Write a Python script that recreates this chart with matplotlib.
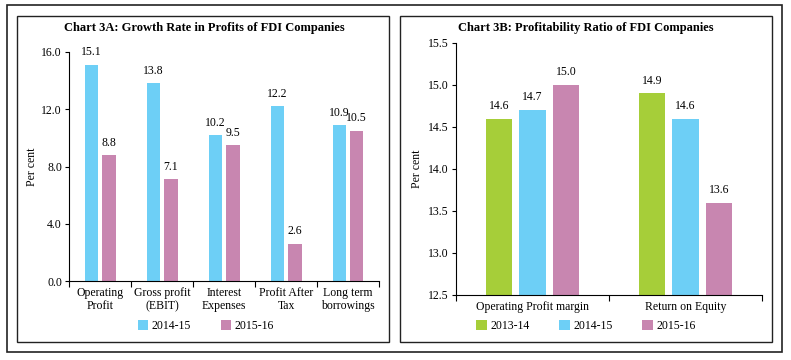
import matplotlib
matplotlib.use("Agg")
import matplotlib.pyplot as plt
import numpy as np
from matplotlib.patches import Rectangle

# Data
cats_a = ["Operating\nProfit", "Gross profit\n(EBIT)", "Interest\nExpenses", "Profit After\nTax", "Long term\nborrowings"]
a_2014 = [15.1, 13.8, 10.2, 12.2, 10.9]
a_2015 = [8.8, 7.1, 9.5, 2.6, 10.5]
series_a = ["2014-15", "2015-16"]

cats_b = ["Operating Profit margin", "Return on Equity"]
b_2013 = [14.6, 14.9]
b_2014 = [14.7, 14.6]
b_2015 = [15.0, 13.6]
series_b = ["2013-14", "2014-15", "2015-16"]

green = "#A6CE39"
blue = "#6DCFF6"
pink = "#C886B0"

plt.rcParams['font.family'] = ['Liberation Serif', 'DejaVu Serif']
W, H = 791, 360
fig = plt.figure(figsize=(W/100, H/100), dpi=100)

def fx(x): return x / W
def fy(y): return 1 - y / H

# borders
fig.patches.append(Rectangle((fx(7), fy(352)), fx(782) - fx(7), fy(5) - fy(352),
                             transform=fig.transFigure, fill=False, lw=1.2, ec="#222222"))
fig.patches.append(Rectangle((fx(17), fy(342)), fx(389) - fx(17), fy(16) - fy(342),
                             transform=fig.transFigure, fill=False, lw=1.0, ec="#222222"))
fig.patches.append(Rectangle((fx(400), fy(342)), fx(772) - fx(400), fy(16) - fy(342),
                             transform=fig.transFigure, fill=False, lw=1.0, ec="#222222"))

fs = 8.5

def style(ax):
    ax.spines['top'].set_visible(False)
    ax.spines['right'].set_visible(False)
    ax.spines['left'].set_linewidth(0.8)
    ax.spines['bottom'].set_linewidth(0.8)
    ax.tick_params(axis='y', direction='out', length=3, width=0.8, labelsize=fs, pad=2)
    ax.tick_params(axis='x', which='major', length=0, labelsize=fs, pad=4)
    ax.tick_params(axis='x', which='minor', direction='out', length=4, width=0.8)

# Chart A
axA = fig.add_axes([fx(69), fy(281), fx(379) - fx(69), fy(52) - fy(281)])
xa = np.arange(len(cats_a))
w = 0.22
b1 = axA.bar(xa - 0.14, a_2014, w, color=blue, label=series_a[0])
b2 = axA.bar(xa + 0.14, a_2015, w, color=pink, label=series_a[1])
for bars in (b1, b2):
    for r in bars:
        axA.text(r.get_x() + r.get_width()/2, r.get_height() + 0.45, f"{r.get_height():.1f}",
                 ha='center', va='bottom', fontsize=fs)
axA.set_xlim(-0.5, len(cats_a) - 0.5)
axA.set_ylim(0, 16)
axA.set_yticks([0, 4, 8, 12, 16])
axA.set_yticklabels([f"{v:.1f}" for v in [0, 4, 8, 12, 16]])
axA.set_xticks(xa)
axA.set_xticklabels(cats_a, linespacing=1.15)
axA.set_xticks(np.arange(-0.5, len(cats_a)), minor=True)
style(axA)
axA.set_ylabel("Per cent", fontsize=fs)
axA.yaxis.set_label_coords(fx(38 - 69) / (fx(379) - fx(69)), 0.5)
fig.text(fx(204), fy(28), "Chart 3A: Growth Rate in Profits of FDI Companies", ha='center', va='center',
         fontsize=9, fontweight='bold')
fig.legend(handles=[b1, b2], labels=series_a, loc='center', bbox_to_anchor=(fx(206), fy(326)),
           ncol=2, frameon=False, fontsize=fs, handlelength=0.9, handleheight=0.9,
           handletextpad=0.3, columnspacing=2.5, borderpad=0)

# Chart B
axB = fig.add_axes([fx(456), fy(295), fx(762) - fx(456), fy(43) - fy(295)])
xb = np.arange(len(cats_b))
wb = 0.17
c1 = axB.bar(xb - 0.22, b_2013, wb, color=green, label=series_b[0])
c2 = axB.bar(xb, b_2014, wb, color=blue, label=series_b[1])
c3 = axB.bar(xb + 0.22, b_2015, wb, color=pink, label=series_b[2])
for bars in (c1, c2, c3):
    for r in bars:
        axB.text(r.get_x() + r.get_width()/2, r.get_height() + 0.08, f"{r.get_height():.1f}",
                 ha='center', va='bottom', fontsize=fs)
axB.set_xlim(-0.5, len(cats_b) - 0.5)
axB.set_ylim(12.5, 15.5)
yt = [12.5, 13.0, 13.5, 14.0, 14.5, 15.0, 15.5]
axB.set_yticks(yt)
axB.set_yticklabels([f"{v:.1f}" for v in yt])
axB.set_xticks(xb)
axB.set_xticklabels(cats_b)
axB.set_xticks(np.arange(-0.5, len(cats_b)), minor=True)
style(axB)
axB.set_ylabel("Per cent", fontsize=fs)
axB.yaxis.set_label_coords(fx(423 - 456) / (fx(762) - fx(456)), 0.5)
fig.text(fx(586), fy(28), "Chart 3B: Profitability Ratio of FDI Companies", ha='center', va='center',
         fontsize=9, fontweight='bold')
fig.legend(handles=[c1, c2, c3], labels=series_b, loc='center', bbox_to_anchor=(fx(586), fy(326)),
           ncol=3, frameon=False, fontsize=fs, handlelength=0.9, handleheight=0.9,
           handletextpad=0.3, columnspacing=2.5, borderpad=0)

fig.savefig("out.png", dpi=100)
